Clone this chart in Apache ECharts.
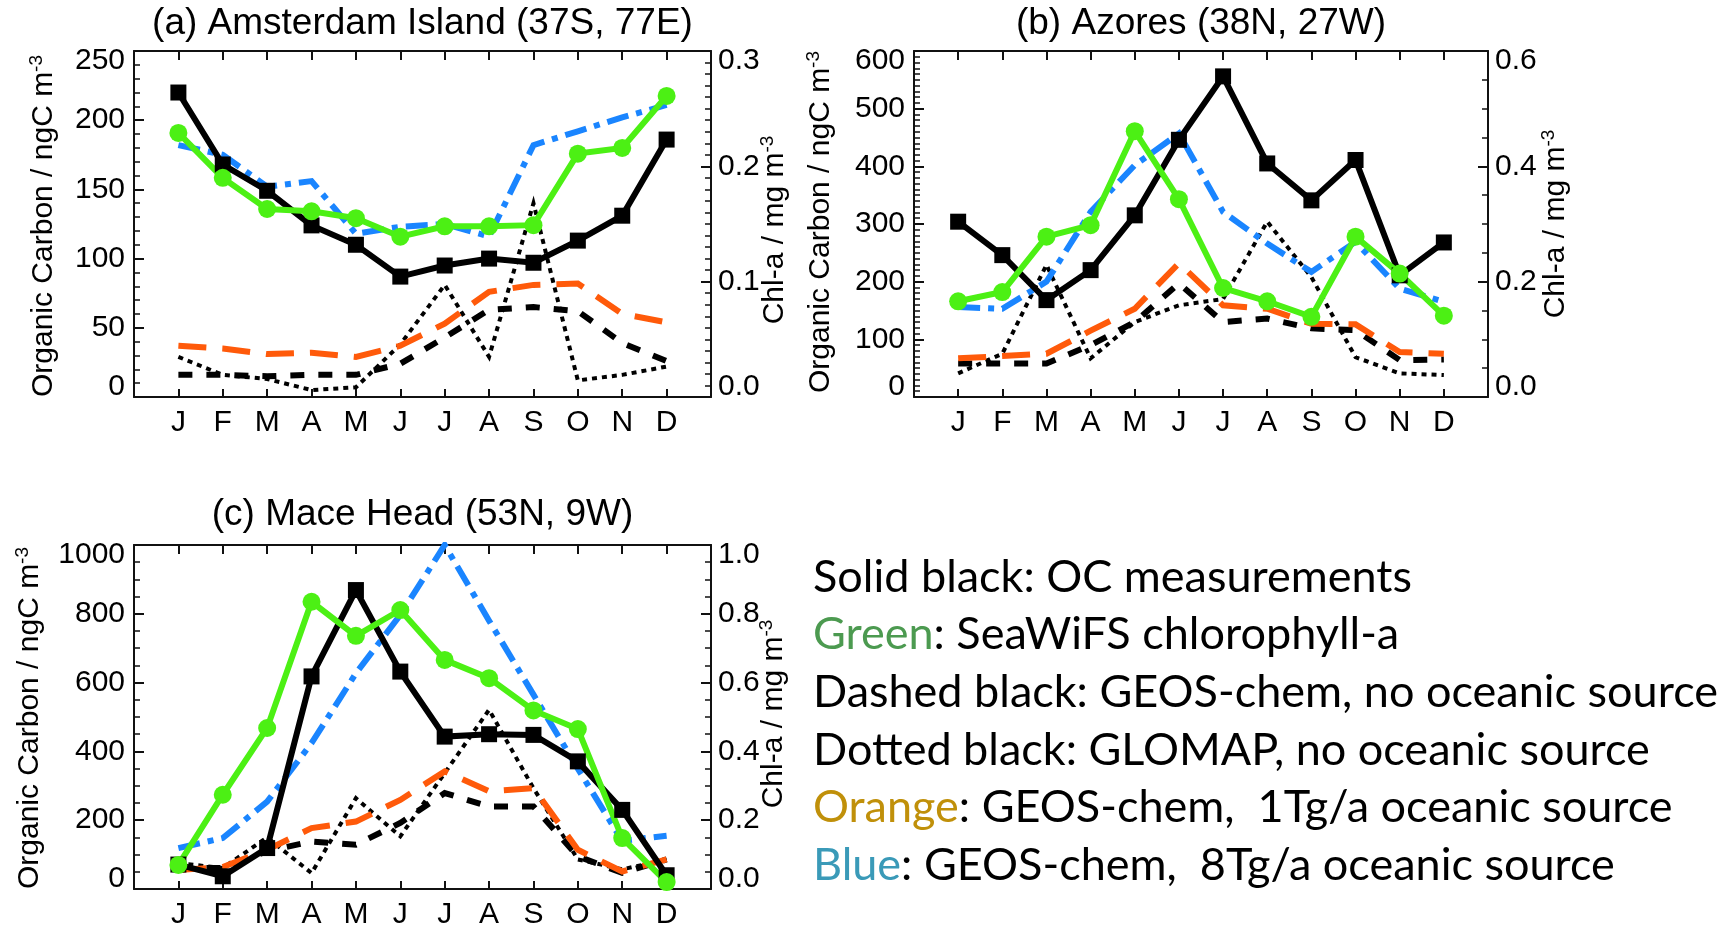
<!DOCTYPE html>
<html>
<head>
<meta charset="utf-8">
<title>OC and chlorophyll-a seasonal cycles</title>
<script src="https://cdn.jsdelivr.net/npm/echarts/dist/echarts.min.js"></script>
<style>
    html, body { margin: 0; padding: 0; background: #fff; }
    #main { width: 1727px; height: 930px; }
</style>
</head>
<body>
<div id="main"></div>
<script>
// month letters, plotted at x = 1..12
var months = ['J', 'F', 'M', 'A', 'M', 'J', 'J', 'A', 'S', 'O', 'N', 'D'];

// (a) Amsterdam Island -- ngC m-3, chl in mg m-3
var amsOC = [220, 168, 149, 124, 110, 87, 95, 100, 97, 113, 131, 186];
var amsChl = [0.229, 0.190, 0.163, 0.161, 0.155, 0.139, 0.148, 0.148, 0.149, 0.211, 0.216, 0.261];
var amsGeos = [16, 16, 15, 16, 16, 24, 43, 63, 65, 62, 39, 26];
var amsGlomap = [29, 16, 13, 5, 7, 38, 81, 29, 140, 12, 16, 22];
var amsGeos1 = [37, 35, 31, 32, 29, 37, 53, 76, 81, 82, 60, 54];
var amsGeos8 = [182, 175, 152, 156, 118, 123, 125, 116, 182, 192, 202, 211];

// (b) Azores
var azoOC = [304, 246, 168, 220, 315, 446, 556, 405, 341, 411, 211, 268];
var azoChl = [0.166, 0.182, 0.278, 0.298, 0.461, 0.343, 0.189, 0.166, 0.139, 0.278, 0.214, 0.141];
var azoGeos = [58, 58, 58, 90, 130, 197, 130, 136, 119, 116, 64, 65];
var azoGlomap = [41, 75, 229, 67, 130, 159, 170, 304, 208, 69, 41, 38];
var azoGeos1 = [67, 71, 75, 115, 153, 232, 159, 153, 127, 126, 78, 75];
var azoGeos8 = [156, 153, 200, 321, 402, 457, 321, 266, 217, 269, 188, 165];

// (c) Mace Head
var macOC = [71, 37, 119, 618, 869, 632, 443, 450, 448, 371, 230, 40];
var macChl = [0.070, 0.274, 0.468, 0.835, 0.736, 0.811, 0.666, 0.613, 0.519, 0.465, 0.148, 0.020];
var macGeos = [61, 61, 110, 138, 129, 192, 279, 240, 240, 95, 47, 86];
var macGlomap = [75, 61, 150, 46, 264, 153, 337, 521, 293, 86, 57, 86];
var macGeos1 = [55, 64, 114, 177, 196, 259, 342, 284, 293, 114, 51, 86];
var macGeos8 = [119, 148, 254, 424, 627, 797, 1000, 780, 565, 350, 140, 155];

// legend notes on the right
var notes = [
    '{k|Solid black: OC measurements}',
    '{g|Green}{k|: SeaWiFS chlorophyll-a}',
    '{k|Dashed black: GEOS-chem, no oceanic source}',
    '{k|Dotted black: GLOMAP, no oceanic source}',
    '{o|Orange}{k|: GEOS-chem,  1Tg/a oceanic source}',
    '{b|Blue}{k|: GEOS-chem,  8Tg/a oceanic source}'
];

var FONT = '"Liberation Sans", Arial, Helvetica, sans-serif';

var panels = [
    {
        title: '(a) Amsterdam Island (37S, 77E)', left: 134, top: 51, width: 577, height: 346,
        ocMax: 250, ocStep: 50, ocMinor: 5, chlMax: 0.3, chlStep: 0.1, chlMinor: 10,
        oc: amsOC, chl: amsChl, geos: amsGeos, glomap: amsGlomap, geos1: amsGeos1, geos8: amsGeos8,
        titleY: 24, leftNameX: 44, leftNameY: 226, rightNameX: 775, rightNameY: 230
    },
    {
        title: '(b) Azores (38N, 27W)', left: 914, top: 51, width: 574, height: 346,
        ocMax: 600, ocStep: 100, ocMinor: 10, chlMax: 0.6, chlStep: 0.2, chlMinor: 4,
        oc: azoOC, chl: azoChl, geos: azoGeos, glomap: azoGlomap, geos1: azoGeos1, geos8: azoGeos8,
        titleY: 24, leftNameX: 821, leftNameY: 222, rightNameX: 1556, rightNameY: 224
    },
    {
        title: '(c) Mace Head (53N, 9W)', left: 134, top: 545, width: 577, height: 344,
        ocMax: 1000, ocStep: 200, ocMinor: 4, chlMax: 1.0, chlStep: 0.2, chlMinor: 4,
        oc: macOC, chl: macChl, geos: macGeos, glomap: macGlomap, geos1: macGeos1, geos8: macGeos8,
        titleY: 515, leftNameX: 30, leftNameY: 718, rightNameX: 774, rightNameY: 714
    }
];

function pairs(vals) {
    return vals.map(function (v, i) { return [i + 1, v]; });
}

function lineSeries(i, axis, vals, color, width, dash, symbol, size) {
    return {
        type: 'line', xAxisIndex: 2 * i, yAxisIndex: 2 * i + axis,
        data: pairs(vals),
        symbol: symbol || 'none', symbolSize: size || 0, showSymbol: !!symbol,
        itemStyle: { color: color, borderWidth: 0 },
        lineStyle: { color: color, width: width, type: dash, cap: 'butt', join: 'miter' },
        emphasis: { disabled: true },
        silent: true
    };
}

function nameText(x, y, main) {
    return {
        type: 'text', x: x, y: y, rotation: Math.PI / 2, silent: true,
        style: {
            text: '{t|' + main + '}{s|-3}',
            align: 'center', verticalAlign: 'middle',
            rich: {
                t: { fontSize: 30, fontFamily: FONT, fill: '#000', lineHeight: 34 },
                s: { fontSize: 19, fontFamily: FONT, fill: '#000', verticalAlign: 'top', lineHeight: 20 }
            }
        }
    };
}

var grid = [], xAxis = [], yAxis = [], series = [], graphic = [];
var axisLine = { show: true, onZero: false, lineStyle: { color: '#111', width: 2 } };
var labelBase = { color: '#000', fontSize: 30, fontFamily: FONT };

panels.forEach(function (p, i) {
    grid.push({ left: p.left, top: p.top, width: p.width, height: p.height });

    // bottom axis with month letters, top axis only for the frame and ticks
    xAxis.push({
        type: 'value', gridIndex: i, min: 0, max: 13, interval: 1, position: 'bottom',
        axisLine: axisLine, splitLine: { show: false },
        axisTick: { inside: true, length: 8, lineStyle: { color: '#111', width: 2 } },
        axisLabel: Object.assign({}, labelBase, {
            margin: 11,
            formatter: function (v) { return months[v - 1] || ''; }
        })
    });
    xAxis.push({
        type: 'value', gridIndex: i, min: 0, max: 13, interval: 1, position: 'top',
        axisLine: axisLine, splitLine: { show: false },
        axisTick: { inside: true, length: 9, lineStyle: { color: '#111', width: 2 } },
        axisLabel: { show: false }
    });

    // edge labels sit just inside the frame, like the original
    yAxis.push({
        type: 'value', gridIndex: i, position: 'left', min: 0, max: p.ocMax, interval: p.ocStep,
        axisLine: axisLine, splitLine: { show: false },
        axisTick: { inside: true, length: 10, lineStyle: { color: '#111', width: 2 } },
        minorTick: { show: true, splitNumber: p.ocMinor, length: 6, lineStyle: { color: '#111', width: 1.5 } },
        axisLabel: Object.assign({}, labelBase, {
            margin: 9, lineHeight: 20, verticalAlignMaxLabel: 'top', verticalAlignMinLabel: 'bottom',
            formatter: function (v) { return String(v); }
        })
    });
    yAxis.push({
        type: 'value', gridIndex: i, position: 'right', min: 0, max: p.chlMax, interval: p.chlStep,
        axisLine: axisLine, splitLine: { show: false },
        axisTick: { inside: true, length: 10, lineStyle: { color: '#111', width: 2 } },
        minorTick: { show: true, splitNumber: p.chlMinor, length: 6, lineStyle: { color: '#111', width: 1.5 } },
        axisLabel: Object.assign({}, labelBase, {
            margin: 7, lineHeight: 20, verticalAlignMaxLabel: 'top', verticalAlignMinLabel: 'bottom',
            formatter: function (v) { return v.toFixed(1); }
        })
    });

    series.push(lineSeries(i, 0, p.glomap, '#000', 4, [5, 5]));
    series.push(lineSeries(i, 0, p.geos, '#000', 6, [14, 14]));
    series.push(lineSeries(i, 0, p.geos1, '#ff5a0a', 6, [28, 16]));
    series.push(lineSeries(i, 0, p.geos8, '#1a85ff', 6, [22, 8, 6, 8]));
    series.push(lineSeries(i, 0, p.oc, '#000', 6, 'solid', 'rect', 16));
    series.push(lineSeries(i, 1, p.chl, '#4cf014', 6, 'solid', 'circle', 18));

    graphic.push({
        type: 'text', x: p.left + p.width / 2, y: p.titleY, silent: true,
        style: { text: p.title, fontSize: 37, fontFamily: FONT, fill: '#000', align: 'center', verticalAlign: 'middle' }
    });
    graphic.push(nameText(p.leftNameX, p.leftNameY, 'Organic Carbon / ngC m'));
    graphic.push(nameText(p.rightNameX, p.rightNameY, 'Chl-a / mg m'));
});

// coloured notes in the lower right
var noteRich = {
    k: { fill: '#000', fontSize: 45, fontFamily: 'Lato, "Open Sans", sans-serif' },
    g: { fill: '#4c9a50', fontSize: 45, fontFamily: 'Lato, "Open Sans", sans-serif' },
    o: { fill: '#c0900a', fontSize: 45, fontFamily: 'Lato, "Open Sans", sans-serif' },
    b: { fill: '#3a9ab8', fontSize: 45, fontFamily: 'Lato, "Open Sans", sans-serif' }
};
notes.forEach(function (t, j) {
    graphic.push({
        type: 'text', x: 813, y: 577 + j * 57.7, silent: true,
        style: { text: t, align: 'left', verticalAlign: 'middle', rich: noteRich }
    });
});

var chart = echarts.init(document.getElementById('main'));
chart.setOption({
    animation: false,
    backgroundColor: '#fff',
    grid: grid,
    xAxis: xAxis,
    yAxis: yAxis,
    series: series,
    graphic: graphic
});
</script>
</body>
</html>
